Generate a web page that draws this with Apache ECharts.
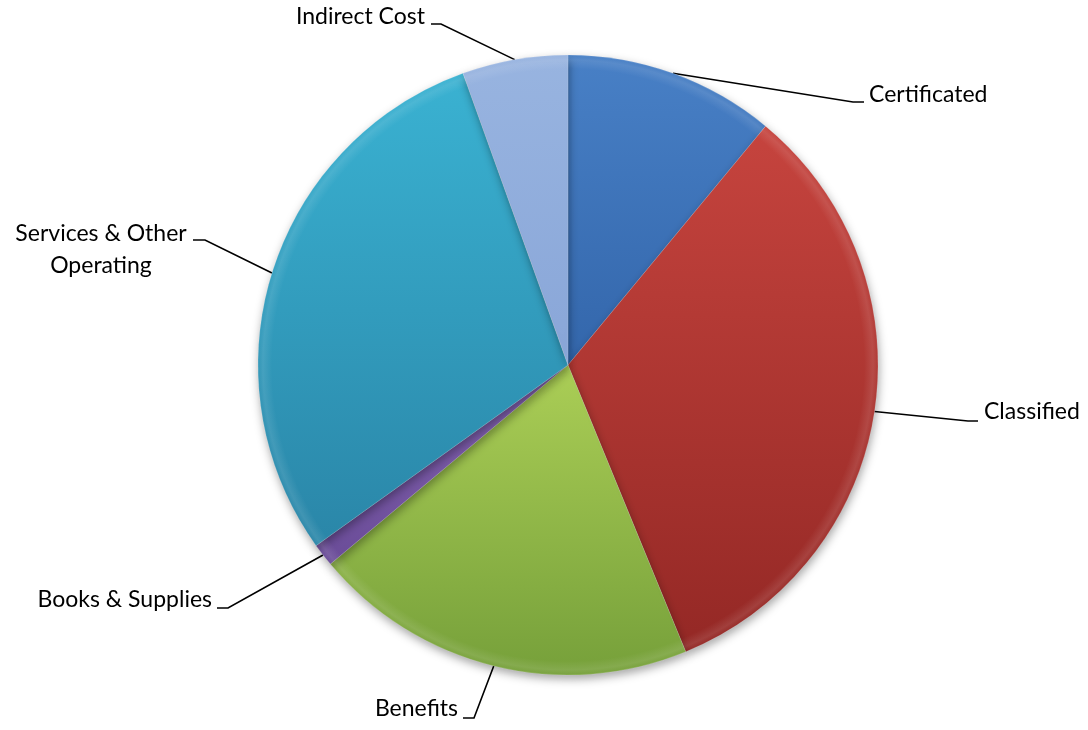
<!DOCTYPE html>
<html>
<head>
<meta charset="utf-8">
<style>
  html, body { margin: 0; padding: 0; background: #ffffff; }
  #chart { width: 1088px; height: 730px; }
</style>
<script src="https://cdn.jsdelivr.net/npm/echarts@6/dist/echarts.min.js"></script>
</head>
<body>
<div id="chart"></div>
<script>
// Expenditure categories and their share of the budget (%)
const categories = ['Certificated', 'Classified', 'Benefits', 'Books & Supplies', 'Services & Other\nOperating', 'Indirect Cost'];
const shares = [11.0, 32.8, 20.1, 1.2, 29.4, 5.5];

// Slice fills: top and bottom of each slice's own vertical gradient
const topColors = ['#4880c6', '#c6443e', '#abce56', '#8463b0', '#3ab2d2', '#98b4e0'];
const bottomColors = ['#3366ab', '#942825', '#76a03a', '#6a4c98', '#2a86a8', '#89a6d8'];

// Where each label sits and how its leader line bends
const labelSpots = [
  { x: 869, y: 95,  align: 'left',   elbow: [853, 102], end: [864, 102] },
  { x: 984, y: 412, align: 'left',   elbow: [968, 421], end: [978, 421] },
  { x: 458, y: 709, align: 'right',  elbow: [474, 718], end: [463, 718] },
  { x: 212, y: 600, align: 'right',  elbow: [228, 608], end: [217, 608] },
  { x: 101, y: 250, align: 'center', elbow: [205, 240], end: [193, 240] },
  { x: 425, y: 17,  align: 'right',  elbow: [441, 24],  end: [431, 24] }
];

const cx = 568, cy = 365, R = 310;

const total = shares.reduce((a, b) => a + b, 0);
// point on the rim at the middle of each slice (clockwise from 12 o'clock)
function rimPoint(i) {
  let before = 0;
  for (let k = 0; k < i; k++) before += shares[k];
  const mid = (before + shares[i] / 2) / total * Math.PI * 2;
  return [cx + R * Math.sin(mid), cy - R * Math.cos(mid)];
}

function fill(i) {
  return new echarts.graphic.LinearGradient(0, 0, 0, 1, [
    { offset: 0, color: topColors[i] },
    { offset: 1, color: bottomColors[i] }
  ]);
}

const data = categories.map((name, i) => ({
  name: name,
  value: shares[i],
  itemStyle: { color: fill(i) }
}));

const chart = echarts.init(document.getElementById('chart'), null, { renderer: 'canvas' });

chart.setOption({
  backgroundColor: '#ffffff',
  animation: false,
  series: [
    {
      type: 'pie',
      center: [cx, cy],
      radius: [0, R],
      startAngle: 90,
      clockwise: true,
      data: data,
      itemStyle: {
        borderColor: 'rgba(255,255,255,0.15)',
        borderWidth: 1,
        shadowBlur: 10,
        shadowColor: 'rgba(0,0,0,0.35)',
        shadowOffsetX: 1,
        shadowOffsetY: 4
      },
      emphasis: { disabled: true },
      label: {
        show: true,
        position: 'outside',
        color: '#000000',
        fontFamily: 'Lato, "Open Sans", sans-serif',
        fontSize: 23,
        lineHeight: 32,
        formatter: '{b}'
      },
      labelLine: {
        show: true,
        length: 20,
        length2: 10,
        lineStyle: { color: '#000000', width: 1.6 }
      },
      labelLayout: function (params) {
        const i = params.dataIndex;
        const s = labelSpots[i];
        return {
          x: s.x,
          y: s.y,
          align: s.align,
          verticalAlign: 'middle',
          labelLinePoints: [rimPoint(i), s.elbow, s.end]
        };
      }
    },
    {
      // soft bevel along the outer rim
      type: 'pie',
      center: [cx, cy],
      radius: [R - 14, R],
      startAngle: 90,
      clockwise: true,
      silent: true,
      data: categories.map((name, i) => ({ name: name, value: shares[i] })),
      itemStyle: {
        color: new echarts.graphic.RadialGradient(cx, cy, R, [
          { offset: (R - 14) / R, color: 'rgba(255,255,255,0)' },
          { offset: (R - 5) / R, color: 'rgba(255,255,255,0.10)' },
          { offset: 1, color: 'rgba(255,255,255,0.02)' }
        ], true),
        borderWidth: 0
      },
      label: { show: false },
      labelLine: { show: false },
      emphasis: { disabled: true }
    }
  ]
});
</script>
</body>
</html>
